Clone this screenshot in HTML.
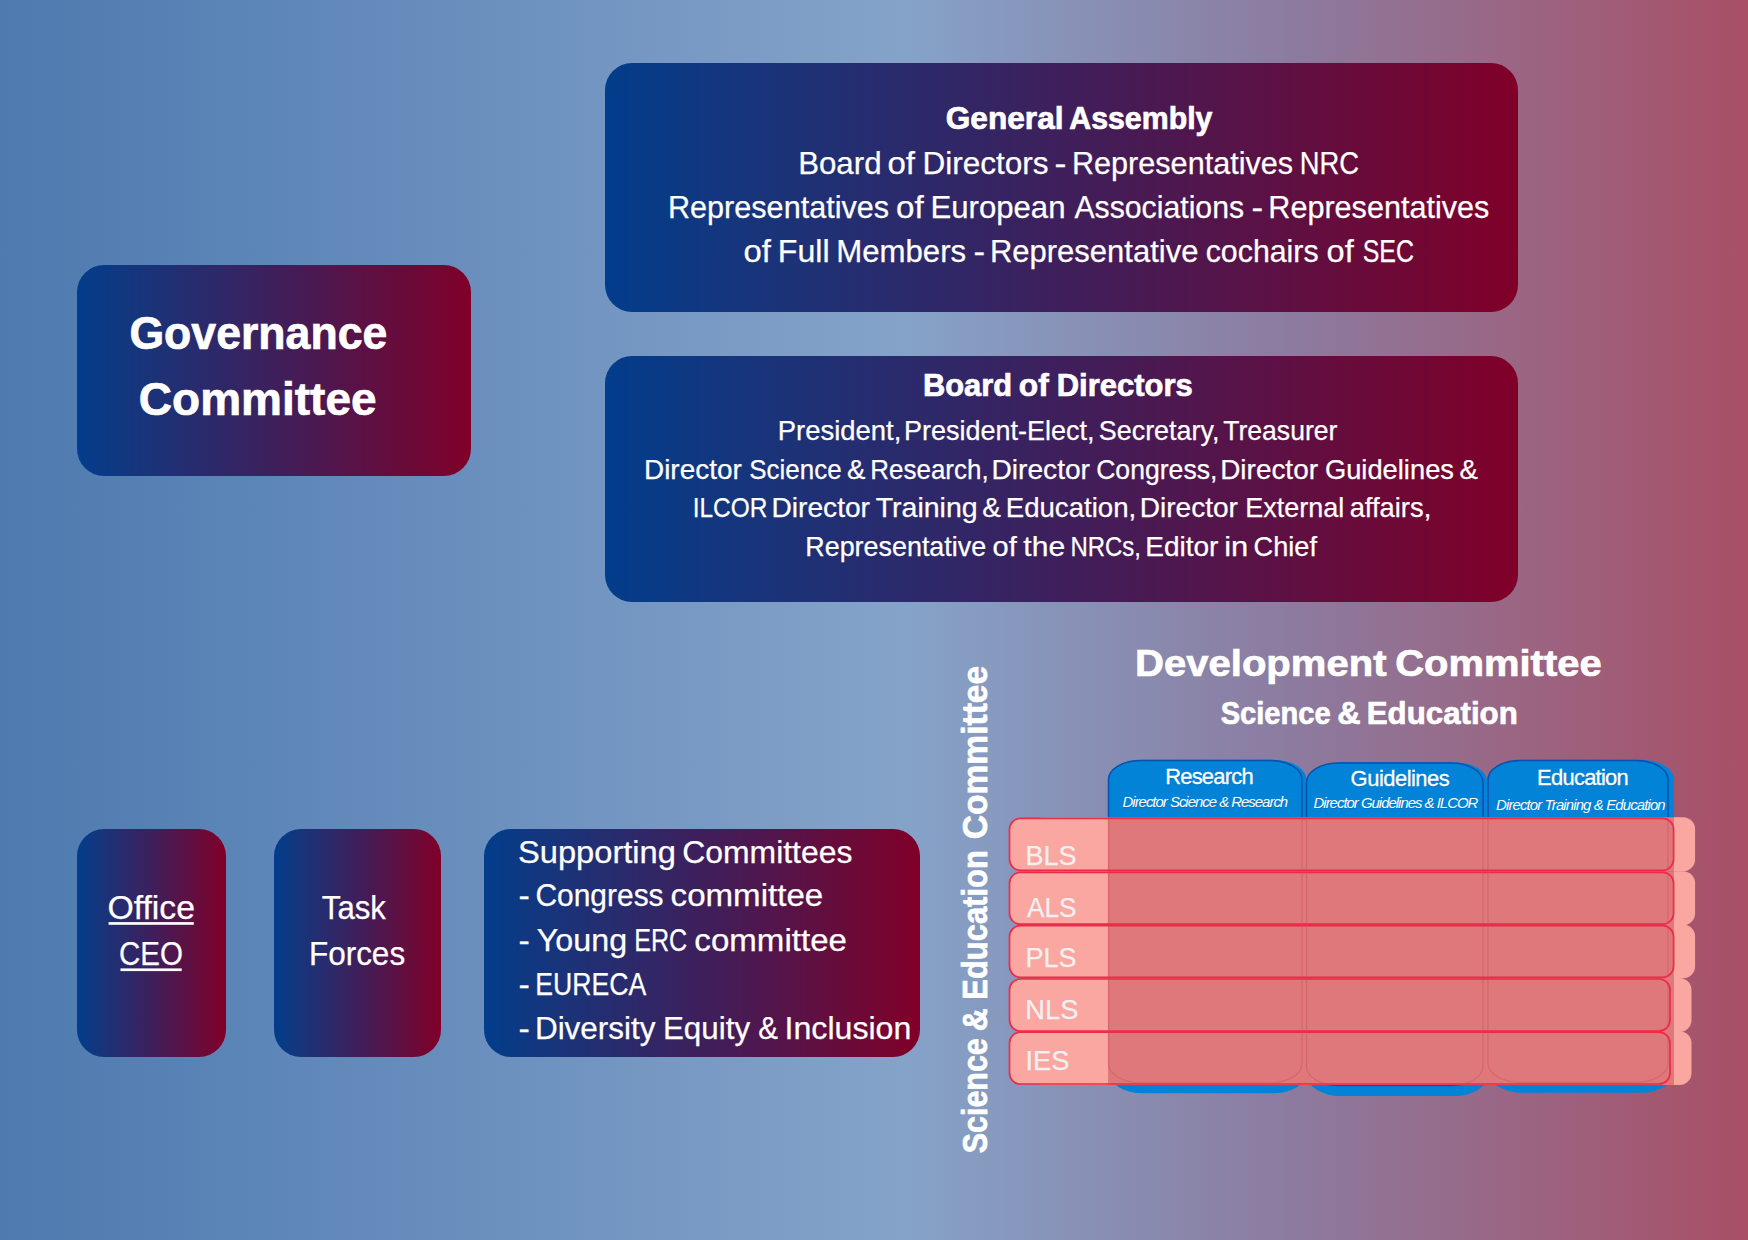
<!DOCTYPE html>
<html lang="en"><head><meta charset="utf-8"><title>ERC Organisation</title>
<style>
html,body{margin:0;padding:0;background:#4e7aaf}
#page{position:relative;width:1748px;height:1240px;overflow:hidden;
 background:linear-gradient(90deg,#4e7aaf 0%,#5f87b9 17%,#85a3c9 51.5%,#8c7b9f 74%,#a94f66 100%)}
.box{position:absolute;background:linear-gradient(90deg,#023d8b 0%,#16357c 15%,#441c57 55%,#800028 100%)}
svg{position:absolute;left:0;top:0}
text{font-family:"Liberation Sans",sans-serif;fill:#fff}
</style></head><body><div id="page">
<div class="box" style="left:77px;top:265px;width:394px;height:211px;border-radius:27px"></div>
<div class="box" style="left:605px;top:63px;width:913px;height:249px;border-radius:27px"></div>
<div class="box" style="left:605px;top:356px;width:913px;height:246px;border-radius:27px"></div>
<div class="box" style="left:77px;top:829px;width:149px;height:228px;border-radius:27px"></div>
<div class="box" style="left:274px;top:829px;width:167px;height:228px;border-radius:27px"></div>
<div class="box" style="left:484px;top:829px;width:436px;height:227.5px;border-radius:27px"></div>
<svg width="1748" height="1240" viewBox="0 0 1748 1240">
<defs><linearGradient id="rowg" gradientUnits="userSpaceOnUse" x1="1000" y1="0" x2="1700" y2="0"><stop offset="0" stop-color="#faa7a1"/><stop offset="0.15471" stop-color="#faa7a1"/><stop offset="0.15472" stop-color="#df787a"/><stop offset="1" stop-color="#df787a"/></linearGradient><linearGradient id="shg" gradientUnits="userSpaceOnUse" x1="1000" y1="0" x2="1700" y2="0"><stop offset="0" stop-color="#faa7a1"/><stop offset="0.15471" stop-color="#faa7a1"/><stop offset="0.15472" stop-color="#df787a"/><stop offset="0.96271" stop-color="#df787a"/><stop offset="0.96272" stop-color="#faa7a1"/><stop offset="1" stop-color="#faa7a1"/></linearGradient>
<clipPath id="rowclip"><rect x="1009.5" y="818.4" width="664.1" height="51.9" rx="11"/><rect x="1009.5" y="872.3" width="664.1" height="51.9" rx="11"/><rect x="1009.5" y="925.6" width="664.1" height="51.7" rx="11"/><rect x="1009.5" y="979" width="660.5" height="52" rx="11"/><rect x="1009.5" y="1032.2" width="660.5" height="51.8" rx="11"/></clipPath></defs>
<rect x="1109.3" y="759.7" width="197.1" height="333.5" rx="33" ry="20" fill="#0283d8"/>
<rect x="1108.5" y="760.5" width="193.5" height="322.3" rx="32" ry="19" fill="#0283d8" stroke="#0752ab" stroke-width="1.5"/>
<rect x="1307.3" y="762.2" width="180.1" height="333.7" rx="33" ry="20" fill="#0283d8"/>
<rect x="1306.5" y="763" width="176.5" height="322.5" rx="32" ry="19" fill="#0283d8" stroke="#0752ab" stroke-width="1.5"/>
<rect x="1488.8" y="759.7" width="185.2" height="333.0" rx="33" ry="20" fill="#0283d8"/>
<rect x="1488" y="760.5" width="180" height="321.8" rx="32" ry="19" fill="#0283d8" stroke="#0752ab" stroke-width="1.5"/>
<rect x="1031.0" y="817.35" width="664.1" height="54.0" rx="12" fill="url(#shg)"/>
<rect x="1031.0" y="871.25" width="664.1" height="54.0" rx="12" fill="url(#shg)"/>
<rect x="1031.0" y="924.5500000000001" width="664.1" height="53.8" rx="12" fill="url(#shg)"/>
<rect x="1031.0" y="977.95" width="660.5" height="54.1" rx="12" fill="url(#shg)"/>
<rect x="1031.0" y="1031.15" width="660.5" height="53.9" rx="12" fill="url(#shg)"/>
<rect x="1009.5" y="818.4" width="664.1" height="51.9" rx="11" fill="url(#rowg)" stroke="#ee2a48" stroke-width="1.7"/>
<rect x="1009.5" y="872.3" width="664.1" height="51.9" rx="11" fill="url(#rowg)" stroke="#ee2a48" stroke-width="1.7"/>
<rect x="1009.5" y="925.6" width="664.1" height="51.7" rx="11" fill="url(#rowg)" stroke="#ee2a48" stroke-width="1.7"/>
<rect x="1009.5" y="979" width="660.5" height="52" rx="11" fill="url(#rowg)" stroke="#ee2a48" stroke-width="1.7"/>
<rect x="1009.5" y="1032.2" width="660.5" height="51.8" rx="11" fill="url(#rowg)" stroke="#ee2a48" stroke-width="1.7"/>
<g clip-path="url(#rowclip)" fill="none" stroke="#c8505f" stroke-opacity="0.45" stroke-width="1.2">
<rect x="1108.5" y="760.5" width="193.5" height="322.3" rx="32" ry="19"/>
<rect x="1306.5" y="763" width="176.5" height="322.5" rx="32" ry="19"/>
<rect x="1488" y="760.5" width="180" height="321.8" rx="32" ry="19"/>
</g>
<g font-size="28.3" stroke="#f4f0f1" stroke-width="0.25">
<text x="1025.38" y="865.0" textLength="51.05" lengthAdjust="spacingAndGlyphs" style="fill:#f4f0f1">BLS</text>
<text x="1026.95" y="916.5" textLength="49.45" lengthAdjust="spacingAndGlyphs" style="fill:#f4f0f1">ALS</text>
<text x="1025.38" y="967.0" textLength="51.05" lengthAdjust="spacingAndGlyphs" style="fill:#f4f0f1">PLS</text>
<text x="1025.36" y="1018.5" textLength="53.09" lengthAdjust="spacingAndGlyphs" style="fill:#f4f0f1">NLS</text>
<text x="1025.48" y="1069.5" textLength="43.97" lengthAdjust="spacingAndGlyphs" style="fill:#f4f0f1">IES</text>
</g>
<g font-size="22" font-style="normal" style="fill:#04407f" fill-opacity="0.3">
<text x="1166.0" y="785.3" textLength="88.43" lengthAdjust="spacing" style="fill:#04407f">Research</text>
<text x="1351.39" y="787.0" textLength="99.2" lengthAdjust="spacing" style="fill:#04407f">Guidelines</text>
<text x="1537.8" y="786.0" textLength="91.83" lengthAdjust="spacing" style="fill:#04407f">Education</text>
</g>
<g font-size="22" font-style="normal" stroke="#fff" stroke-width="0.3">
<text x="1165.2" y="784.3" textLength="88.43" lengthAdjust="spacing">Research</text>
<text x="1350.59" y="786.0" textLength="99.2" lengthAdjust="spacing">Guidelines</text>
<text x="1537.0" y="785.0" textLength="91.83" lengthAdjust="spacing">Education</text>
</g>
<g font-size="15" font-style="italic" style="fill:#04407f" fill-opacity="0.3">
<text x="1123.1" y="807.6" textLength="165.65" lengthAdjust="spacing" style="fill:#04407f">Director Science &amp; Research</text>
<text x="1314.1" y="808.9" textLength="164.92" lengthAdjust="spacing" style="fill:#04407f">Director Guidelines &amp; ILCOR</text>
<text x="1496.6" y="810.2" textLength="169.64" lengthAdjust="spacing" style="fill:#04407f">Director Training &amp; Education</text>
</g>
<g font-size="15" font-style="italic">
<text x="1122.54" y="806.9" textLength="165.65" lengthAdjust="spacing">Director Science &amp; Research</text>
<text x="1313.54" y="808.2" textLength="164.92" lengthAdjust="spacing">Director Guidelines &amp; ILCOR</text>
<text x="1496.04" y="809.5" textLength="169.64" lengthAdjust="spacing">Director Training &amp; Education</text>
</g>
<g font-size="45.5" font-weight="700" stroke="#fff" stroke-width="0.7">
<text x="129.42" y="349.2" textLength="257.85" lengthAdjust="spacingAndGlyphs">Governance</text>
</g>
<g font-size="45.5" font-weight="700" stroke="#fff" stroke-width="0.7">
<text x="138.86" y="415.2" textLength="237.71" lengthAdjust="spacingAndGlyphs">Committee</text>
</g>
<g font-size="31.6" font-weight="700" stroke="#fff" stroke-width="0.7">
<text x="945.7" y="128.8" textLength="117.84" lengthAdjust="spacingAndGlyphs">General</text>
<text x="1069.25" y="128.8" textLength="143.22" lengthAdjust="spacingAndGlyphs">Assembly</text>
</g>
<g font-size="31.4" font-weight="400" stroke="#fff" stroke-width="0.25">
<text x="798.14" y="173.8" textLength="83.38" lengthAdjust="spacingAndGlyphs">Board</text>
<text x="887.41" y="173.8" textLength="27.54" lengthAdjust="spacingAndGlyphs">of</text>
<text x="922.41" y="173.8" textLength="126.23" lengthAdjust="spacingAndGlyphs">Directors</text>
<text x="1054.42" y="173.8" textLength="11.86" lengthAdjust="spacingAndGlyphs">-</text>
<text x="1071.99" y="173.8" textLength="221.12" lengthAdjust="spacingAndGlyphs">Representatives</text>
<text x="1299.75" y="173.8" textLength="59.29" lengthAdjust="spacingAndGlyphs">NRC</text>
</g>
<g font-size="31.4" font-weight="400" stroke="#fff" stroke-width="0.25">
<text x="667.99" y="217.6" textLength="221.12" lengthAdjust="spacingAndGlyphs">Representatives</text>
<text x="896.11" y="217.6" textLength="27.64" lengthAdjust="spacingAndGlyphs">of</text>
<text x="930.44" y="217.6" textLength="135.08" lengthAdjust="spacingAndGlyphs">European</text>
<text x="1074.44" y="217.6" textLength="169.65" lengthAdjust="spacingAndGlyphs">Associations</text>
<text x="1251.46" y="217.6" textLength="11.59" lengthAdjust="spacingAndGlyphs">-</text>
<text x="1268.29" y="217.6" textLength="221.12" lengthAdjust="spacingAndGlyphs">Representatives</text>
</g>
<g font-size="31.4" font-weight="400" stroke="#fff" stroke-width="0.25">
<text x="743.62" y="261.6" textLength="27.33" lengthAdjust="spacingAndGlyphs">of</text>
<text x="777.86" y="261.6" textLength="51.79" lengthAdjust="spacingAndGlyphs">Full</text>
<text x="836.24" y="261.6" textLength="129.88" lengthAdjust="spacingAndGlyphs">Members</text>
<text x="973.46" y="261.6" textLength="11.59" lengthAdjust="spacingAndGlyphs">-</text>
<text x="989.96" y="261.6" textLength="208.42" lengthAdjust="spacingAndGlyphs">Representative</text>
<text x="1205.71" y="261.6" textLength="112.88" lengthAdjust="spacingAndGlyphs">cochairs</text>
<text x="1326.63" y="261.6" textLength="27.12" lengthAdjust="spacingAndGlyphs">of</text>
<text x="1362.67" y="261.6" textLength="51.28" lengthAdjust="spacingAndGlyphs">SEC</text>
</g>
<g font-size="31.6" font-weight="700" stroke="#fff" stroke-width="0.7">
<text x="922.94" y="395.7" textLength="89.1" lengthAdjust="spacingAndGlyphs">Board</text>
<text x="1018.76" y="395.7" textLength="29.98" lengthAdjust="spacingAndGlyphs">of</text>
<text x="1056.73" y="395.7" textLength="136.04" lengthAdjust="spacingAndGlyphs">Directors</text>
</g>
<g font-size="27.2" font-weight="400" stroke="#fff" stroke-width="0.25">
<text x="777.75" y="440.1" textLength="123.52" lengthAdjust="spacingAndGlyphs">President,</text>
<text x="904.09" y="440.1" textLength="190.34" lengthAdjust="spacingAndGlyphs">President-Elect,</text>
<text x="1098.78" y="440.1" textLength="120.64" lengthAdjust="spacingAndGlyphs">Secretary,</text>
<text x="1223.2" y="440.1" textLength="114.24" lengthAdjust="spacingAndGlyphs">Treasurer</text>
</g>
<g font-size="27.2" font-weight="400" stroke="#fff" stroke-width="0.25">
<text x="644.01" y="478.6" textLength="97.76" lengthAdjust="spacingAndGlyphs">Director</text>
<text x="749.32" y="478.6" textLength="92.33" lengthAdjust="spacingAndGlyphs">Science</text>
<text x="847.03" y="478.6" textLength="18.4" lengthAdjust="spacingAndGlyphs">&amp;</text>
<text x="870.37" y="478.6" textLength="118.26" lengthAdjust="spacingAndGlyphs">Research,</text>
<text x="991.49" y="478.6" textLength="98.48" lengthAdjust="spacingAndGlyphs">Director</text>
<text x="1096.15" y="478.6" textLength="121.24" lengthAdjust="spacingAndGlyphs">Congress,</text>
<text x="1220.21" y="478.6" textLength="97.76" lengthAdjust="spacingAndGlyphs">Director</text>
<text x="1324.93" y="478.6" textLength="129.06" lengthAdjust="spacingAndGlyphs">Guidelines</text>
<text x="1459.53" y="478.6" textLength="18.4" lengthAdjust="spacingAndGlyphs">&amp;</text>
</g>
<g font-size="27.2" font-weight="400" stroke="#fff" stroke-width="0.25">
<text x="692.74" y="517.2" textLength="74.69" lengthAdjust="spacingAndGlyphs">ILCOR</text>
<text x="771.49" y="517.2" textLength="98.48" lengthAdjust="spacingAndGlyphs">Director</text>
<text x="875.66" y="517.2" textLength="101.98" lengthAdjust="spacingAndGlyphs">Training</text>
<text x="982.32" y="517.2" textLength="18.62" lengthAdjust="spacingAndGlyphs">&amp;</text>
<text x="1005.73" y="517.2" textLength="130.55" lengthAdjust="spacingAndGlyphs">Education,</text>
<text x="1139.7" y="517.2" textLength="98.27" lengthAdjust="spacingAndGlyphs">Director</text>
<text x="1245.29" y="517.2" textLength="99.02" lengthAdjust="spacingAndGlyphs">External</text>
<text x="1349.64" y="517.2" textLength="81.62" lengthAdjust="spacingAndGlyphs">affairs,</text>
</g>
<g font-size="27.2" font-weight="400" stroke="#fff" stroke-width="0.25">
<text x="805.29" y="555.7" textLength="180.9" lengthAdjust="spacingAndGlyphs">Representative</text>
<text x="992.58" y="555.7" textLength="24.17" lengthAdjust="spacingAndGlyphs">of</text>
<text x="1023.34" y="555.7" textLength="41.79" lengthAdjust="spacingAndGlyphs">the</text>
<text x="1070.54" y="555.7" textLength="70.41" lengthAdjust="spacingAndGlyphs">NRCs,</text>
<text x="1145.2" y="555.7" textLength="73.27" lengthAdjust="spacingAndGlyphs">Editor</text>
<text x="1224.23" y="555.7" textLength="24.08" lengthAdjust="spacingAndGlyphs">in</text>
<text x="1253.62" y="555.7" textLength="63.34" lengthAdjust="spacingAndGlyphs">Chief</text>
</g>
<g font-size="33" font-weight="400" stroke="#fff" stroke-width="0.25">
<text x="107.4" y="918.5" textLength="87.6" lengthAdjust="spacingAndGlyphs">Office</text>
</g>
<g font-size="33" font-weight="400" stroke="#fff" stroke-width="0.25">
<text x="119.0" y="964.6" textLength="63.91" lengthAdjust="spacingAndGlyphs">CEO</text>
</g>
<g font-size="33" font-weight="400" stroke="#fff" stroke-width="0.25">
<text x="321.8" y="918.5" textLength="64.16" lengthAdjust="spacingAndGlyphs">Task</text>
</g>
<g font-size="33" font-weight="400" stroke="#fff" stroke-width="0.25">
<text x="308.92" y="964.6" textLength="96.22" lengthAdjust="spacingAndGlyphs">Forces</text>
</g>
<g font-size="31.3" font-weight="400" stroke="#fff" stroke-width="0.25">
<text x="518.02" y="862.6" textLength="157.89" lengthAdjust="spacingAndGlyphs">Supporting</text>
<text x="682.18" y="862.6" textLength="170.27" lengthAdjust="spacingAndGlyphs">Committees</text>
</g>
<g font-size="31.3" font-weight="400" stroke="#fff" stroke-width="0.25">
<text x="518.49" y="906.4" textLength="11.32" lengthAdjust="spacingAndGlyphs">-</text>
<text x="535.48" y="906.4" textLength="128.1" lengthAdjust="spacingAndGlyphs">Congress</text>
<text x="670.59" y="906.4" textLength="152.68" lengthAdjust="spacingAndGlyphs">committee</text>
</g>
<g font-size="31.3" font-weight="400" stroke="#fff" stroke-width="0.25">
<text x="518.49" y="950.5" textLength="11.32" lengthAdjust="spacingAndGlyphs">-</text>
<text x="536.79" y="950.5" textLength="90.29" lengthAdjust="spacingAndGlyphs">Young</text>
<text x="634.24" y="950.5" textLength="53.02" lengthAdjust="spacingAndGlyphs">ERC</text>
<text x="694.39" y="950.5" textLength="152.58" lengthAdjust="spacingAndGlyphs">committee</text>
</g>
<g font-size="31.3" font-weight="400" stroke="#fff" stroke-width="0.25">
<text x="518.49" y="994.7" textLength="11.32" lengthAdjust="spacingAndGlyphs">-</text>
<text x="535.31" y="994.7" textLength="111.04" lengthAdjust="spacingAndGlyphs">EURECA</text>
</g>
<g font-size="31.3" font-weight="400" stroke="#fff" stroke-width="0.25">
<text x="518.49" y="1038.8" textLength="11.32" lengthAdjust="spacingAndGlyphs">-</text>
<text x="534.92" y="1038.8" textLength="120.64" lengthAdjust="spacingAndGlyphs">Diversity</text>
<text x="662.93" y="1038.8" textLength="87.13" lengthAdjust="spacingAndGlyphs">Equity</text>
<text x="758.26" y="1038.8" textLength="19.7" lengthAdjust="spacingAndGlyphs">&amp;</text>
<text x="784.53" y="1038.8" textLength="126.85" lengthAdjust="spacingAndGlyphs">Inclusion</text>
</g>
<g font-size="37.3" font-weight="700" stroke="#fff" stroke-width="0.7">
<text x="1135.02" y="675.7" textLength="251.47" lengthAdjust="spacingAndGlyphs">Development</text>
<text x="1395.26" y="675.7" textLength="206.4" lengthAdjust="spacingAndGlyphs">Committee</text>
</g>
<g font-size="31.6" font-weight="700" stroke="#fff" stroke-width="0.7">
<text x="1220.66" y="723.8" textLength="110.03" lengthAdjust="spacingAndGlyphs">Science</text>
<text x="1337.38" y="723.8" textLength="23.33" lengthAdjust="spacingAndGlyphs">&amp;</text>
<text x="1366.81" y="723.8" textLength="150.93" lengthAdjust="spacingAndGlyphs">Education</text>
</g>
<rect x="108.6" y="922.1" width="85.2" height="2.7" fill="#fff"/>
<rect x="120.5" y="968.4" width="61.2" height="2.7" fill="#fff"/>
<g transform="translate(987.3,0) rotate(-90)" font-size="35.3" font-weight="700" stroke="#fff" stroke-width="0.7">
<text x="-1153.28" y="0" textLength="115.02" lengthAdjust="spacingAndGlyphs">Science</text>
<text x="-1031.2" y="0" textLength="22.99" lengthAdjust="spacingAndGlyphs">&amp;</text>
<text x="-999.77" y="0" textLength="149.59" lengthAdjust="spacingAndGlyphs">Education</text>
<text x="-839.28" y="0" textLength="173.42" lengthAdjust="spacingAndGlyphs">Committee</text>
</g>
</svg></div></body></html>
